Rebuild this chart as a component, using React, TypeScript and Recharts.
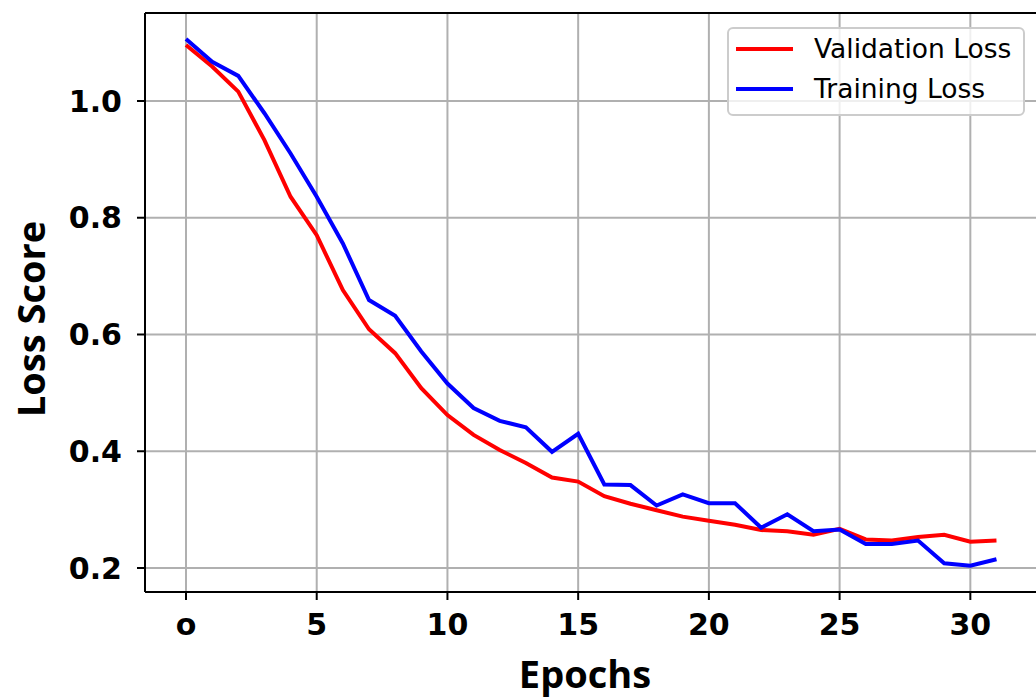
import React from 'react';
import { LineChart, Line, XAxis, YAxis, CartesianGrid, ReferenceLine, Legend } from 'recharts';

const epochs = [0, 1, 2, 3, 4, 5, 6, 7, 8, 9, 10, 11, 12, 13, 14, 15, 16, 17, 18, 19, 20, 21, 22, 23, 24, 25, 26, 27, 28, 29, 30, 31];
const validationLoss = [1.096, 1.059, 1.016, 0.933, 0.836, 0.77, 0.676, 0.609, 0.568, 0.508, 0.462, 0.428, 0.402, 0.38, 0.355, 0.348, 0.323, 0.31, 0.299, 0.288, 0.281, 0.274, 0.265, 0.263, 0.257, 0.267, 0.249, 0.247, 0.253, 0.257, 0.245, 0.247];
const trainingLoss = [1.106, 1.067, 1.043, 0.979, 0.91, 0.836, 0.756, 0.659, 0.632, 0.571, 0.516, 0.474, 0.452, 0.441, 0.399, 0.43, 0.343, 0.342, 0.307, 0.326, 0.311, 0.311, 0.269, 0.292, 0.263, 0.266, 0.241, 0.241, 0.247, 0.208, 0.204, 0.215];

const xTicks = [0, 5, 10, 15, 20, 25, 30];
const xTickLabels = ['o', '5', '10', '15', '20', '25', '30'];
const yTicks = [0.2, 0.4, 0.6, 0.8, 1.0];
const yTickLabels = ['0.2', '0.4', '0.6', '0.8', '1.0'];
const seriesNames = ['Validation Loss', 'Training Loss'];
const seriesColors = ['#ff0000', '#0000ff'];
const xAxisTitle = 'Epochs';
const yAxisTitle = 'Loss Score';

const X_DOMAIN: [number, number] = [-1.568, 32.55];
const Y_DOMAIN: [number, number] = [0.1589, 1.1507];

const data = epochs.map((e, i) => ({ epoch: e, val: validationLoss[i], train: trainingLoss[i] }));

const XTick = (props: any) => {
  const { x, y, payload } = props;
  const idx = xTicks.indexOf(payload.value);
  const label = idx >= 0 ? xTickLabels[idx] : String(payload.value);
  return (
    <text x={x} y={y} dy="0.71em" textAnchor="middle" fontFamily="DejaVu Sans" fontWeight="bold" fontSize={30} fill="#000">
      {label}
    </text>
  );
};

const YTick = (props: any) => {
  const { x, y, payload } = props;
  const idx = yTicks.findIndex((t) => Math.abs(t - payload.value) < 1e-9);
  const label = idx >= 0 ? yTickLabels[idx] : String(payload.value);
  return (
    <text x={x} y={y} dy="0.355em" textAnchor="end" fontFamily="DejaVu Sans" fontWeight="bold" fontSize={30} fill="#000">
      {label}
    </text>
  );
};

const XTitle = () => (
  <text x={585} y={688} textAnchor="middle" fontFamily="Open Sans" fontWeight="bold" fontSize={38} fill="#000">
    {xAxisTitle}
  </text>
);

const YTitle = () => (
  <text x={45} y={319} transform="rotate(-90, 45, 319)" textAnchor="middle" fontFamily="Open Sans" fontWeight="bold" fontSize={38} fill="#000">
    {yAxisTitle}
  </text>
);

const LegendBox = () => (
  <div
    style={{
      boxSizing: 'border-box',
      width: 298,
      height: 89,
      border: '2px solid #cccccc',
      borderRadius: 6,
      background: 'rgba(255,255,255,0.8)',
      position: 'relative',
    }}
  >
    {seriesNames.map((name, i) => (
      <div key={name}>
        <div
          style={{
            position: 'absolute',
            left: 7,
            top: 20 + 40 * i - 2,
            width: 57,
            height: 4,
            background: seriesColors[i],
          }}
        />
        <div
          style={{
            position: 'absolute',
            left: 85,
            top: 20 + 40 * i,
            transform: 'translateY(-50%)',
            fontFamily: 'DejaVu Sans',
            fontSize: 26.5,
            lineHeight: 1,
            whiteSpace: 'nowrap',
            color: '#000',
          }}
        >
          {name}
        </div>
      </div>
    ))}
  </div>
);

export default function App() {
  return (
    <div style={{ position: 'absolute', left: 0, top: 0, width: 1036, height: 699, overflow: 'hidden', background: '#fff' }}>
      <LineChart width={1037} height={699} data={data} margin={{ top: 13, right: 0, bottom: 0, left: 0 }}>
        <CartesianGrid stroke="#b0b0b0" strokeWidth={2} />
        <XAxis
          type="number"
          dataKey="epoch"
          domain={X_DOMAIN}
          ticks={xTicks}
          allowDataOverflow
          interval={0}
          height={107}
          axisLine={{ stroke: '#000', strokeWidth: 2 }}
          tickLine={{ stroke: '#000', strokeWidth: 2 }}
          tickSize={8}
          tickMargin={14}
          tick={<XTick />}
          label={<XTitle />}
        />
        <YAxis
          type="number"
          domain={Y_DOMAIN}
          ticks={yTicks}
          allowDataOverflow
          interval={0}
          width={145}
          axisLine={{ stroke: '#000', strokeWidth: 2 }}
          tickLine={{ stroke: '#000', strokeWidth: 2 }}
          tickSize={8}
          tickMargin={15}
          tick={<YTick />}
          label={<YTitle />}
        />
        <ReferenceLine y={Y_DOMAIN[1]} stroke="#000" strokeWidth={2} />
        <Line type="linear" dataKey="val" name={seriesNames[0]} stroke={seriesColors[0]} strokeWidth={4} dot={false} isAnimationActive={false} />
        <Line type="linear" dataKey="train" name={seriesNames[1]} stroke={seriesColors[1]} strokeWidth={4} dot={false} isAnimationActive={false} />
        <Legend
          layout="vertical"
          align="center"
          verticalAlign="middle"
          wrapperStyle={{ left: 727, top: 27, width: 298, height: 89 }}
          content={<LegendBox />}
        />
      </LineChart>
    </div>
  );
}
